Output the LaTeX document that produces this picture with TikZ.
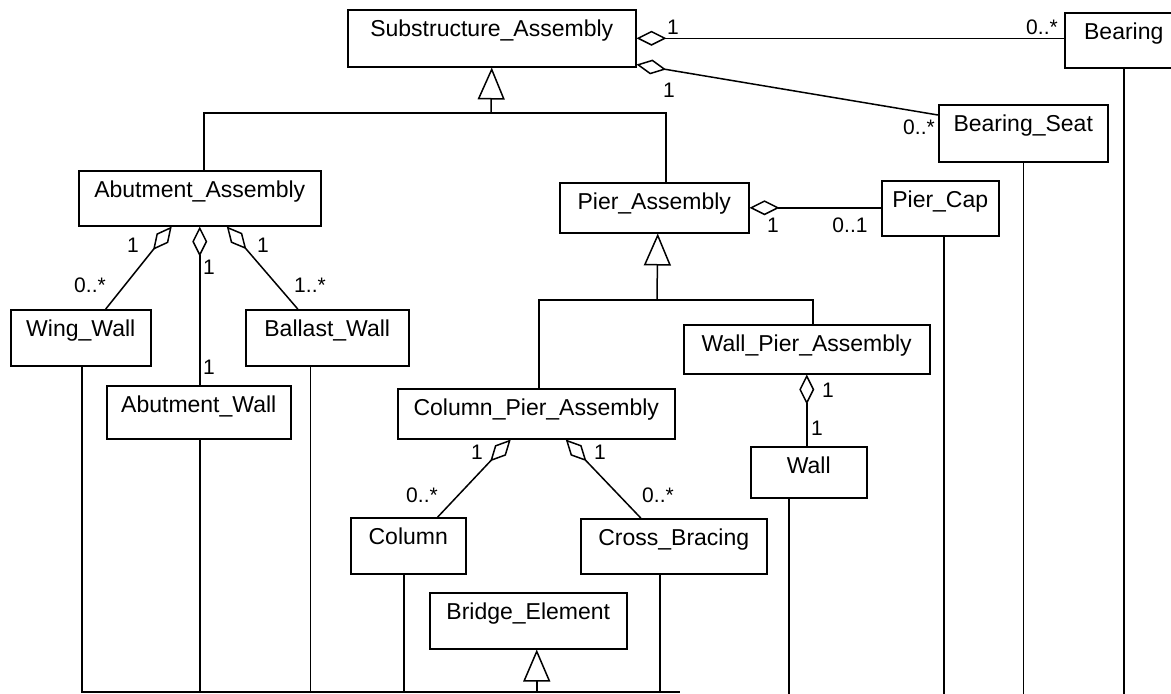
\documentclass[tikz,border=0pt]{standalone}
\usepackage{fontspec}
\setmainfont{Liberation Sans}
\usetikzlibrary{arrows.meta}

% class box: #1 name, #2 left, #3 top, #4 right, #5 bottom, #6 class name
\newcommand\umlbox[6]{%
  \pgfmathsetmacro\clsw{#4-#2}%
  \pgfmathsetmacro\clsd{#5-#3-27}%
  \node[cls, text width=\clsw pt, text depth=\clsd pt, anchor=north west] (#1) at (#2,#3) {#6};}

\begin{document}
\begin{tikzpicture}[x=1pt, y=-1pt,
  cls/.style={draw, line width=1.5pt, inner sep=0pt, text height=27pt, align=center,
              font=\fontsize{23}{26}\selectfont},
  conn/.style={line width=1.5pt},
  agg/.style={conn, {Diamond[open,length=30pt,width=15pt]}-},
  gen/.style={conn, -{Triangle[open,length=32pt,width=27pt]}},
  mult/.style={font=\fontsize{21}{24}\selectfont, inner sep=0pt}]
\useasboundingbox (0,0) rectangle (1171,694);
\clip (0,0) rectangle (1171,694);
\fill[white] (0,0) rectangle (1171,694);

% classes
\umlbox{sub}{347}{9}{635}{66}{Substructure\_Assembly}
\umlbox{bearing}{1064}{12}{1182}{67}{Bearing}
\umlbox{bseat}{938}{104}{1107}{161}{Bearing\_Seat}
\umlbox{abut}{78}{170}{320}{225}{Abutment\_Assembly}
\umlbox{pier}{559}{182}{748}{232}{Pier\_Assembly}
\umlbox{pcap}{881}{180}{998}{235}{Pier\_Cap}
\umlbox{wing}{10}{309}{150}{365}{Wing\_Wall}
\umlbox{ballast}{245}{309}{408}{365}{Ballast\_Wall}
\umlbox{wpa}{683}{324}{929}{373}{Wall\_Pier\_Assembly}
\umlbox{abwall}{106}{385}{290}{438}{Abutment\_Wall}
\umlbox{cpa}{397}{388}{674}{438}{Column\_Pier\_Assembly}
\umlbox{wall}{750}{446}{866}{497}{Wall}
\umlbox{col}{350}{517}{465}{573}{Column}
\umlbox{cross}{580}{518}{766}{573}{Cross\_Bracing}
\umlbox{bridge}{429}{592}{626}{648}{Bridge\_Element}

% generalization: Abutment / Pier -> Substructure
\coordinate (gsub) at (491,113);
\draw[gen] (gsub) -- (sub.south);
\draw[conn] ([xshift=4pt]abut.north) |- (gsub) -| (666,182);

% aggregations of Substructure_Assembly
\draw[agg] (sub.east) -- (sub.east -| bearing.west);
\draw[agg] ([yshift=3pt]sub.south east) -- ([yshift=-11pt]bseat.north west);

% aggregations of Abutment_Assembly
\draw[agg] ([xshift=-28pt]abut.south) -- ([xshift=25pt]wing.north);
\draw[agg] (abut.south) -- (abut.south |- abwall.north);
\draw[agg] ([xshift=27pt]abut.south) -- ([xshift=-29.5pt]ballast.north);

% Pier_Assembly with Pier_Cap
\draw[agg] (pier.east) -- (pier.east -| pcap.west);

% generalization: Column / Wall pier -> Pier_Assembly
\coordinate (gpier) at (657,300);
\draw[gen] (gpier) -- ([xshift=3.5pt]pier.south);
\draw[conn] ([xshift=2.5pt]cpa.north) |- (gpier) -| ([xshift=6pt]wpa.north);

% Wall_Pier_Assembly with Wall
\draw[agg] (wpa.south) -- (wpa.south |- wall.north);

% Column_Pier_Assembly with Column and Cross_Bracing
\draw[agg] ([xshift=-25.5pt]cpa.south) -- ([xshift=29.5pt]col.north);
\draw[agg] ([xshift=29.5pt]cpa.south) -- ([xshift=-33pt]cross.north);

% generalization bus to Bridge_Element
\coordinate (busL) at (81,692);
\coordinate (busR) at (680,692);
\coordinate (bend) at (0,696);
\draw[conn] (busL) -- (busR);
\draw[gen] ([xshift=8.5pt]bridge.south |- busL) -- ([xshift=8.5pt]bridge.south);
\draw[conn] ([xshift=1pt]wing.south) -- ([xshift=1pt]wing.south |- busL);
\draw[conn] ([xshift=1pt]abwall.south) -- ([xshift=1pt]abwall.south |- busL);
\draw[conn] ([xshift=-17pt]ballast.south) -- ([xshift=-17pt]ballast.south |- busL);
\draw[conn] ([xshift=-4.5pt]col.south) -- ([xshift=-4.5pt]col.south |- busL);
\draw[conn] ([xshift=-14pt]cross.south) -- ([xshift=-14pt]cross.south |- busL);
\draw[conn] ([xshift=-20pt]wall.south) -- ([xshift=-20pt]wall.south |- bend);
\draw[conn] ([xshift=3.5pt]pcap.south) -- ([xshift=3.5pt]pcap.south |- bend);
\draw[conn] (bseat.south) -- (bseat.south |- bend);
\draw[conn] (bearing.south) -- (bearing.south |- bend);

% multiplicities
\node[mult] (m1) at (673,27) {1};
\node[mult] (m2) at (1042,27) {0..*};
\node[mult] (m3) at (669,90) {1};
\node[mult] (m4) at (919,127) {0..*};
\node[mult] (m5) at (133,245) {1};
\node[mult] (m6) at (209,267) {1};
\node[mult] (m7) at (263,245) {1};
\node[mult] (m8) at (90,285) {0..*};
\node[mult] (m9) at (310,285) {1..*};
\node[mult] (m10) at (209,367) {1};
\node[mult] (m11) at (773,225) {1};
\node[mult] (m12) at (850,225) {0..1};
\node[mult] (m13) at (828,390) {1};
\node[mult] (m14) at (817,428) {1};
\node[mult] (m15) at (477,452) {1};
\node[mult] (m16) at (600,452) {1};
\node[mult] (m17) at (422,495) {0..*};
\node[mult] (m18) at (658,495) {0..*};
\end{tikzpicture}
\end{document}
